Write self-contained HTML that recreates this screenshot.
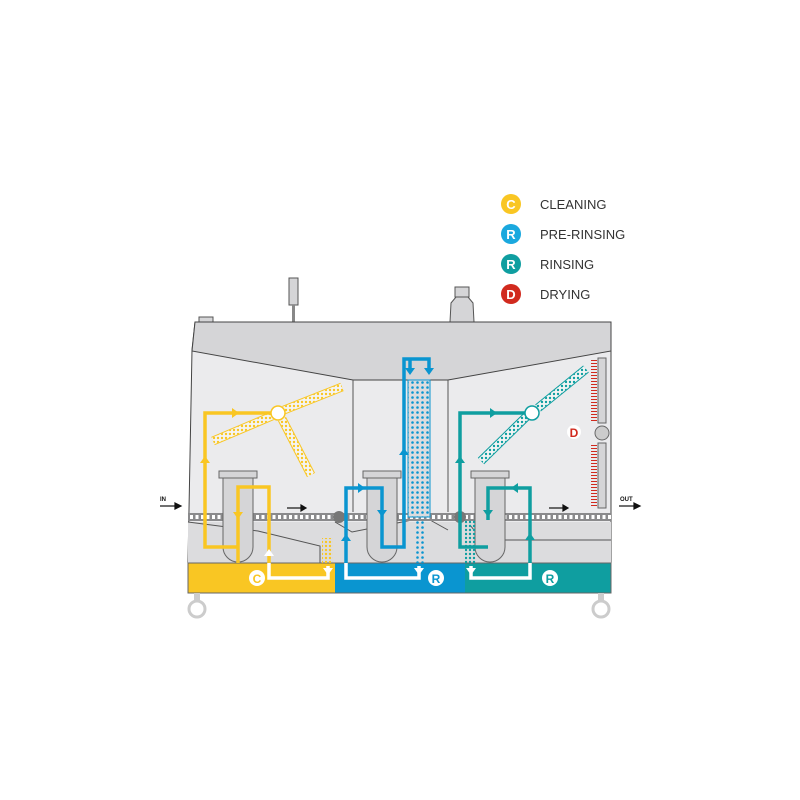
<!DOCTYPE html>
<html><head><meta charset="utf-8"><style>
html,body{margin:0;padding:0;background:#fff}
svg{display:block}
text{font-family:"Liberation Sans",sans-serif}
</style></head><body>
<svg width="800" height="800" viewBox="0 0 800 800" xmlns="http://www.w3.org/2000/svg">
<defs>
<pattern id="dots" width="5" height="5" patternUnits="userSpaceOnUse"><circle cx="2.5" cy="2.5" r="1.3" fill="#0a95d0"/></pattern>
<pattern id="dotsT" width="4" height="4" patternUnits="userSpaceOnUse"><circle cx="2" cy="2" r="1.2" fill="#0f9ea0"/></pattern>
<pattern id="dotsY" width="4" height="4" patternUnits="userSpaceOnUse"><circle cx="2" cy="2" r="1.2" fill="#f9c623"/></pattern>
</defs>
<g font-size="13" fill="#333">
<circle cx="511" cy="204" r="10" fill="#f9c623"/><text x="511" y="209" fill="#fff" font-weight="bold" text-anchor="middle">C</text><text x="540" y="209">CLEANING</text>
<circle cx="511" cy="234" r="10" fill="#1aa8de"/><text x="511" y="239" fill="#fff" font-weight="bold" text-anchor="middle">R</text><text x="540" y="239">PRE-RINSING</text>
<circle cx="511" cy="264" r="10" fill="#0f9ea0"/><text x="511" y="269" fill="#fff" font-weight="bold" text-anchor="middle">R</text><text x="540" y="269">RINSING</text>
<circle cx="511" cy="294" r="10" fill="#d12a1e"/><text x="511" y="299" fill="#fff" font-weight="bold" text-anchor="middle">D</text><text x="540" y="299">DRYING</text>
</g>
<rect x="289" y="278" width="9" height="27" fill="#d5d5d7" stroke="#555" stroke-width="1"/>
<rect x="292" y="305" width="3" height="17" fill="#888"/>
<rect x="199" y="317" width="14" height="6" fill="#d5d5d7" stroke="#555" stroke-width="1"/>
<rect x="455" y="287" width="14" height="10" fill="#d5d5d7" stroke="#555"/>
<path d="M450 322 L451 303 L456 297 L468 297 L473 303 L474 322 Z" fill="#d5d5d7" stroke="#555"/>
<path d="M195 322 L611 322 L611 563 L188 563 L192 350 Z" fill="#ebebed" stroke="#444" stroke-width="1"/>
<path d="M195 322 L611 322 L611 351 L448 380 L353 380 L192 351 Z" fill="#d5d5d7" stroke="#444" stroke-width="1"/>
<line x1="353" y1="380" x2="353" y2="512" stroke="#555"/>
<line x1="448" y1="380" x2="448" y2="512" stroke="#555"/>
<path d="M188 522 L611 522 L611 563 L188 563 Z" fill="#dcdcde"/>
<path d="M188 522 L258 531 L320 546 L320 563 M335 522 L352 532 L412 520 M430 520 L448 530 M470 525 L482 540 L611 540" fill="none" stroke="#555"/>
<rect x="188" y="513" width="423" height="8" fill="#8a8a8c"/>
<line x1="190" y1="517" x2="611" y2="517" stroke="#fff" stroke-width="4" stroke-dasharray="3,2.5"/>
<circle cx="339" cy="517" r="6" fill="#777"/><circle cx="460" cy="517" r="6" fill="#777"/>
<rect x="188" y="563" width="147" height="30" fill="#f9c623"/>
<rect x="335" y="563" width="130" height="30" fill="#0a95d0"/>
<rect x="465" y="563" width="146" height="30" fill="#0f9ea0"/>
<rect x="188" y="563" width="423" height="30" fill="none" stroke="#666"/>
<rect x="194" y="593" width="6" height="8" fill="#ccc"/><circle cx="197" cy="609" r="8" fill="none" stroke="#ccc" stroke-width="3"/>
<rect x="598" y="593" width="6" height="8" fill="#ccc"/><circle cx="601" cy="609" r="8" fill="none" stroke="#ccc" stroke-width="3"/>
<g fill="#d5d5d7" stroke="#666">
<path d="M223 478 L253 478 L253 547 A15 15 0 0 1 223 547 Z"/><rect x="219" y="471" width="38" height="7"/>
<path d="M367 478 L397 478 L397 547 A15 15 0 0 1 367 547 Z"/><rect x="363" y="471" width="38" height="7"/>
<path d="M475 478 L505 478 L505 547 A15 15 0 0 1 475 547 Z"/><rect x="471" y="471" width="38" height="7"/>
</g>
<rect x="408" y="380" width="22" height="137" fill="#dcdcde" stroke="#0a95d0" stroke-width="1"/>
<rect x="408" y="380" width="22" height="137" fill="url(#dots)"/>
<rect x="414" y="520" width="11" height="43" fill="url(#dots)"/>
<rect x="465" y="520" width="11" height="43" fill="url(#dotsT)"/>
<rect x="322" y="538" width="11" height="25" fill="url(#dotsY)"/>
<!-- spray arms -->
<g stroke-linecap="butt" fill="none">
<g stroke="#f9c623" stroke-width="9"><line x1="272" y1="416" x2="213" y2="441"/><line x1="284" y1="410" x2="342" y2="387"/><line x1="282" y1="419" x2="311" y2="475"/></g>
<g stroke="#f4f4f4" stroke-width="7"><line x1="272" y1="416" x2="213" y2="441"/><line x1="284" y1="410" x2="342" y2="387"/><line x1="282" y1="419" x2="311" y2="475"/></g>
<g stroke="url(#dotsY)" stroke-width="7"><line x1="272" y1="416" x2="213" y2="441"/><line x1="284" y1="410" x2="342" y2="387"/><line x1="282" y1="419" x2="311" y2="475"/></g>
<g stroke="#0f9ea0" stroke-width="9"><line x1="526" y1="417" x2="481" y2="461"/><line x1="538" y1="408" x2="586" y2="369"/></g>
<g stroke="#f4f4f4" stroke-width="7"><line x1="526" y1="417" x2="481" y2="461"/><line x1="538" y1="408" x2="586" y2="369"/></g>
<g stroke="url(#dotsT)" stroke-width="7"><line x1="526" y1="417" x2="481" y2="461"/><line x1="538" y1="408" x2="586" y2="369"/></g>
</g>
<g fill="none" stroke-width="3.5" stroke-linejoin="miter">
<path d="M237 547 L205 547 L205 413 L271 413" stroke="#f9c623"/>
<path d="M238 563 L238 487 L269 487 L269 563" stroke="#f9c623"/>
<path d="M269 563 L269 578 L328 578 L328 566" stroke="#fff"/>
<circle cx="278" cy="413" r="7" stroke="#f9c623" stroke-width="1.5" fill="#fff"/>
<path d="M346 563 L346 488 L382 488 L382 547 L404 547 L404 359 L429 359 L429 372" stroke="#0a95d0"/>
<path d="M410 359 L410 372" stroke="#0a95d0"/>
<path d="M346 563 L346 578 L419 578 L419 566" stroke="#fff"/>
<path d="M488 547 L460 547 L460 413 L525 413" stroke="#0f9ea0"/>
<path d="M488 520 L488 488 L530 488 L530 563" stroke="#0f9ea0"/>
<path d="M530 563 L530 578 L471 578 L471 566" stroke="#fff"/>
<circle cx="532" cy="413" r="7" stroke="#0f9ea0" stroke-width="1.5" fill="#fff"/>
</g>
<g>
<path d="M232 408 L239 413 L232 418 Z" fill="#f9c623"/>
<path d="M200 463 L205 456 L210 463 Z" fill="#f9c623"/>
<path d="M233 512 L243 512 L238 519 Z" fill="#f9c623"/>
<path d="M264 556 L269 549 L274 556 Z" fill="#fff"/>
<path d="M323 568 L333 568 L328 575 Z" fill="#fff"/>
<path d="M341 541 L346 534 L351 541 Z" fill="#0a95d0"/>
<path d="M358 483 L365 488 L358 493 Z" fill="#0a95d0"/>
<path d="M377 510 L387 510 L382 517 Z" fill="#0a95d0"/>
<path d="M399 455 L404 448 L409 455 Z" fill="#0a95d0"/>
<path d="M405 368 L415 368 L410 375 Z" fill="#0a95d0"/>
<path d="M424 368 L434 368 L429 375 Z" fill="#0a95d0"/>
<path d="M414 568 L424 568 L419 575 Z" fill="#fff"/>
<path d="M490 408 L497 413 L490 418 Z" fill="#0f9ea0"/>
<path d="M455 463 L460 456 L465 463 Z" fill="#0f9ea0"/>
<path d="M483 510 L493 510 L488 517 Z" fill="#0f9ea0"/>
<path d="M518 483 L511 488 L518 493 Z" fill="#0f9ea0"/>
<path d="M525 540 L530 533 L535 540 Z" fill="#0f9ea0"/>
<path d="M466 568 L476 568 L471 575 Z" fill="#fff"/>
</g>
<circle cx="257" cy="578" r="8" fill="#fff"/><text x="257" y="583" font-size="12" font-weight="bold" fill="#f9c623" text-anchor="middle">C</text>
<circle cx="436" cy="578" r="8" fill="#fff"/><text x="436" y="583" font-size="12" font-weight="bold" fill="#0a95d0" text-anchor="middle">R</text>
<circle cx="550" cy="578" r="8" fill="#fff"/><text x="550" y="583" font-size="12" font-weight="bold" fill="#0f9ea0" text-anchor="middle">R</text>
<rect x="598" y="358" width="8" height="65" fill="#d5d5d7" stroke="#666"/>
<rect x="598" y="443" width="8" height="65" fill="#d5d5d7" stroke="#666"/>
<line x1="594" y1="360" x2="594" y2="421" stroke="#d12a1e" stroke-width="6" stroke-dasharray="1,2"/>
<line x1="594" y1="445" x2="594" y2="506" stroke="#d12a1e" stroke-width="6" stroke-dasharray="1,2"/>
<circle cx="602" cy="433" r="7" fill="#ccc" stroke="#666"/>
<circle cx="574" cy="432" r="7" fill="#fff"/><text x="574" y="437" font-size="12" font-weight="bold" fill="#d12a1e" text-anchor="middle">D</text>
<g stroke="#111" stroke-width="1.2" fill="#111">
<line x1="287" y1="508" x2="302" y2="508"/><path d="M301 505 L306 508 L301 511 Z"/>
<line x1="549" y1="508" x2="564" y2="508"/><path d="M563 505 L568 508 L563 511 Z"/>
<line x1="160" y1="506" x2="176" y2="506"/><path d="M175 503 L181 506 L175 509 Z"/>
<line x1="619" y1="506" x2="635" y2="506"/><path d="M634 503 L640 506 L634 509 Z"/>
</g>
<text x="160" y="501" font-size="6" font-weight="bold" fill="#111">IN</text>
<text x="620" y="501" font-size="6" font-weight="bold" fill="#111">OUT</text>
</svg>
</body></html>
